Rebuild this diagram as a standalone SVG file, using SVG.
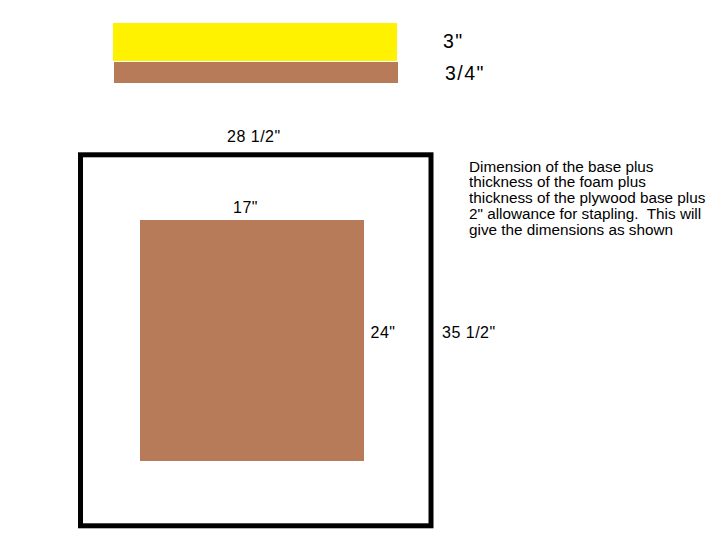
<svg xmlns="http://www.w3.org/2000/svg" width="727" height="555" viewBox="0 0 727 555">
<style>
text{font-family:"Liberation Sans",Arial,sans-serif;fill:#000}
.lbl{font-size:16px;letter-spacing:0.5px}
.big{font-size:19.5px;letter-spacing:1.5px}
.note{font-size:15.3px;white-space:pre}
.wood{fill:#b87b5a}
</style>
<rect width="727" height="555" fill="#fff"/>
<g id="foam-strip"><rect x="113" y="23" width="284" height="38" fill="#fff200"/></g>
<g id="plywood-strip"><rect class="wood" x="114" y="62" width="284" height="21"/></g>
<g id="label-3in"><text class="big" x="443" y="48">3"</text></g>
<g id="label-34in"><text class="big" x="445" y="80">3/4"</text></g>
<g id="outer-frame"><rect x="80.5" y="154.8" width="350.5" height="371" fill="none" stroke="#000" stroke-width="5"/></g>
<g id="inner-base"><rect class="wood" x="140" y="220" width="224" height="241"/></g>
<g id="label-28"><text class="lbl" x="227" y="142">28 1/2"</text></g>
<g id="label-17"><text class="lbl" x="233" y="213">17"</text></g>
<g id="label-24"><text class="lbl" x="370.5" y="338">24"</text></g>
<g id="label-35"><text class="lbl" x="442" y="338">35 1/2"</text></g>
<g id="note"><text class="note" xml:space="preserve"><tspan x="469" y="171.7">Dimension of the base plus</tspan><tspan x="469" y="187.4">thickness of the foam plus</tspan><tspan x="469" y="203.1">thickness of the plywood base plus</tspan><tspan x="469" y="218.8">2" allowance for stapling.  This will</tspan><tspan x="469" y="234.5">give the dimensions as shown</tspan></text></g>
<g id="connectors"/>
</svg>
